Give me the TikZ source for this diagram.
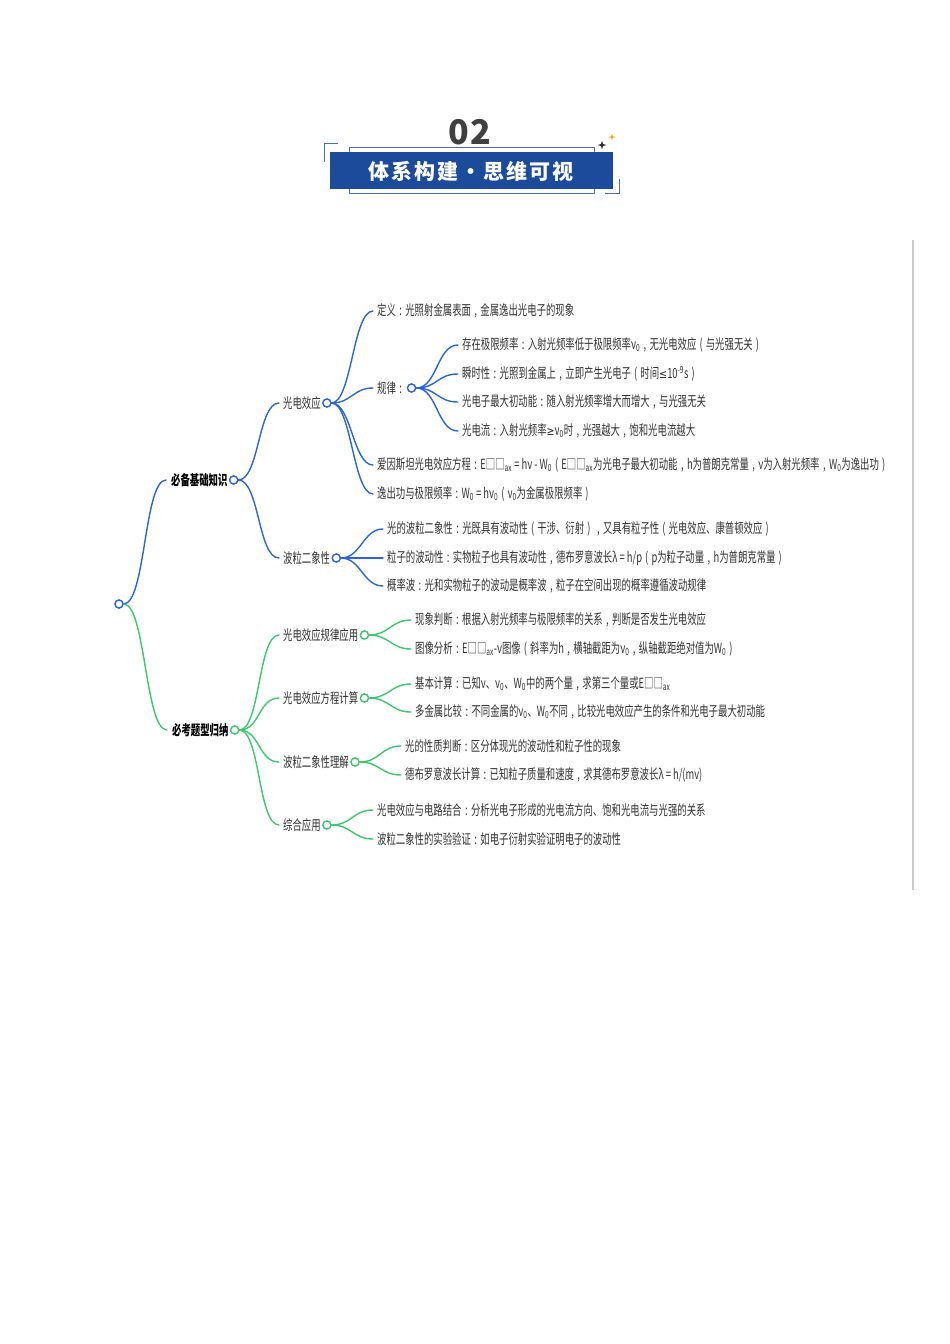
\documentclass[tikz,border=0pt]{standalone}
\usepackage{fontspec}
\setmainfont{Noto Sans CJK SC}[FakeStretch=0.67]
\newfontfamily\hdfont{Noto Sans CJK SC}[LetterSpace=4]
\newfontfamily\ttlfont{Noto Sans CJK SC}[LetterSpace=9]
\newfontfamily\symfont{DejaVu Sans}[FakeStretch=0.8]
\definecolor{bl}{HTML}{2A66D6}
\definecolor{gr}{HTML}{3CC870}
\definecolor{bar}{HTML}{1D4B9B}
\definecolor{frm}{HTML}{4A6DB5}
\definecolor{txt}{HTML}{333333}
\newcommand\nuz{ν\textsubscript{0}}
\newcommand\Wz{W\textsubscript{0}}
\newcommand\Ekm{E□□\textsubscript{ax}}
\newcommand\cl{\makebox[9.4pt][c]{:}}
\newcommand\cm{\makebox[9.4pt][c]{,}}
\newcommand\lp{\makebox[9.4pt][c]{(}}
\newcommand\rp{\makebox[9.4pt][c]{)}}
\newcommand\leqs{{\symfont\fontsize{12}{14}\selectfont ≤}}
\newcommand\geqs{{\symfont\fontsize{12}{14}\selectfont ≥}}
\begin{document}
\begin{tikzpicture}[x=1pt,y=-1pt,
  lf/.style={anchor=west, inner sep=0pt, text=txt, font=\fontsize{14}{16}\selectfont},
  mainlf/.style={anchor=west, inner sep=0pt, text=black, font=\bfseries\fontsize{14}{16}\selectfont},
  dotb/.style={circle, draw=bl, fill=white, line width=1.3pt, minimum size=8pt, inner sep=0pt},
  dotg/.style={circle, draw=gr, fill=white, line width=1.3pt, minimum size=8pt, inner sep=0pt},
  cb/.style={draw=bl, line width=1.4pt, line cap=round},
  cg/.style={draw=gr, line width=1.4pt, line cap=round}]
\useasboundingbox (0,0) rectangle (950,1344);
\fill[white] (0,0) rectangle (950,1344);

% ---------- header ----------
\node[inner sep=0pt, text=black!75, font=\hdfont\bfseries\fontsize{34}{36}\selectfont] (num) at (470,132) {02};
\draw[frm, line width=0.9pt] (349,147) rectangle (594,193);
\fill[bar] (330,152) rectangle (613,189);
\draw[frm, line width=0.9pt] (338,143) -- (324,143) -- (324,162);
\draw[frm, line width=0.9pt] (605,193) -- (619,193) -- (619,179);
\node[inner sep=0pt, text=white, font=\ttlfont\bfseries\fontsize{21}{23}\selectfont] (ttl) at (471,171) {体系构建・思维可视};
\fill[black!80] (602,140.5) -- (603,144) -- (606.5,145) -- (603,146) -- (602,149.5) -- (601,146) -- (597.5,145) -- (601,144) -- cycle;
\fill[orange!85!yellow] (612,133.5) -- (612.7,136.3) -- (615.5,137) -- (612.7,137.7) -- (612,140.5) -- (611.3,137.7) -- (608.5,137) -- (611.3,136.3) -- cycle;

% ---------- right gray rule ----------
\draw[black!20, line width=1.2pt] (913,240) -- (913,890);

% ---------- nodes ----------
\node[dotb] (root) at (119,604) {};

\node[mainlf] (jc) at (171,480) {必备基础知识};
\node[dotb] (cjc) at ([xshift=6pt]jc.east) {};

\node[lf] (gd) at (283,403) {光电效应};
\node[dotb] (cgd) at ([xshift=6pt]gd.east) {};
\node[lf] (bl2) at (283,558) {波粒二象性};
\node[dotb] (cbl2) at ([xshift=6pt]bl2.east) {};

\node[lf] (dy) at (377,311) {定义\cl 光照射金属表面\cm 金属逸出光电子的现象};
\node[lf] (gl) at (377,388) {规律\cl};
\node[dotb] (cgl) at ([xshift=6pt]gl.east) {};
\node[lf] (ay) at (377,465) {爱因斯坦光电效应方程\cl\Ekm{} = hν - \Wz\lp\Ekm{}为光电子最大初动能\cm h为普朗克常量\cm ν为入射光频率\cm\Wz{}为逸出功\rp};
\node[lf] (yc) at (377,494) {逸出功与极限频率\cl\Wz{} = h\nuz\lp\nuz{}为金属极限频率\rp};

\node[lf] (g1) at (462,345) {存在极限频率\cl 入射光频率低于极限频率\nuz\cm 无光电效应\lp 与光强无关\rp};
\node[lf] (g2) at (462,374) {瞬时性\cl 光照到金属上\cm 立即产生光电子\lp 时间\leqs 10\textsuperscript{-9}s\rp};
\node[lf] (g3) at (462,402) {光电子最大初动能\cl 随入射光频率增大而增大\cm 与光强无关};
\node[lf] (g4) at (462,431) {光电流\cl 入射光频率\geqs\nuz{}时\cm 光强越大\cm 饱和光电流越大};

\node[lf] (w1) at (387,529) {光的波粒二象性\cl 光既具有波动性\lp 干涉、衍射\rp\cm 又具有粒子性\lp 光电效应、康普顿效应\rp};
\node[lf] (w2) at (387,558) {粒子的波动性\cl 实物粒子也具有波动性\cm 德布罗意波长λ = h/p\lp p为粒子动量\cm h为普朗克常量\rp};
\node[lf] (w3) at (387,586) {概率波\cl 光和实物粒子的波动是概率波\cm 粒子在空间出现的概率遵循波动规律};

\node[mainlf] (kt) at (172,730) {必考题型归纳};
\node[dotg] (ckt) at ([xshift=6pt]kt.east) {};

\node[lf] (k1) at (283,635) {光电效应规律应用};
\node[dotg] (ck1) at ([xshift=6pt]k1.east) {};
\node[lf] (k2) at (283,698) {光电效应方程计算};
\node[dotg] (ck2) at ([xshift=6pt]k2.east) {};
\node[lf] (k3) at (283,762) {波粒二象性理解};
\node[dotg] (ck3) at ([xshift=6pt]k3.east) {};
\node[lf] (k4) at (283,825) {综合应用};
\node[dotg] (ck4) at ([xshift=6pt]k4.east) {};

\node[lf] (k11) at (415,620) {现象判断\cl 根据入射光频率与极限频率的关系\cm 判断是否发生光电效应};
\node[lf] (k12) at (415,649) {图像分析\cl\Ekm-ν图像\lp 斜率为h\cm 横轴截距为\nuz\cm 纵轴截距绝对值为\Wz\rp};
\node[lf] (k21) at (415,684) {基本计算\cl 已知ν、\nuz、\Wz{}中的两个量\cm 求第三个量或\Ekm};
\node[lf] (k22) at (415,712) {多金属比较\cl 不同金属的\nuz、\Wz{}不同\cm 比较光电效应产生的条件和光电子最大初动能};
\node[lf] (k31) at (405,746) {光的性质判断\cl 区分体现光的波动性和粒子性的现象};
\node[lf] (k32) at (405,775) {德布罗意波长计算\cl 已知粒子质量和速度\cm 求其德布罗意波长λ = h/(mv)};
\node[lf] (k41) at (377,810) {光电效应与电路结合\cl 分析光电子形成的光电流方向、饱和光电流与光强的关系};
\node[lf] (k42) at (377,839) {波粒二象性的实验验证\cl 如电子衍射实验证明电子的波动性};

% ---------- connectors (blue) ----------
\draw[cb] (root.east) .. controls +(22,0) and +(-22,0) .. ([xshift=-5pt]jc.west);
\draw[cb] (cjc.east) .. controls +(21,0) and +(-21,0) .. ([xshift=-4pt]gd.west);
\draw[cb] (cjc.east) .. controls +(21,0) and +(-21,0) .. ([xshift=-4pt]bl2.west);
\foreach \t in {dy,gl,ay,yc}{
  \draw[cb] (cgd.east) .. controls +(20,0) and +(-20,0) .. ([xshift=-4pt]\t.west);
}
\foreach \t in {g1,g2,g3,g4}{
  \draw[cb] (cgl.east) .. controls +(21,0) and +(-21,0) .. ([xshift=-4pt]\t.west);
}
\foreach \t in {w1,w2,w3}{
  \draw[cb] (cbl2.east) .. controls +(20,0) and +(-20,0) .. ([xshift=-4pt]\t.west);
}

% ---------- connectors (green) ----------
\draw[cg] (root.east) .. controls +(22,0) and +(-22,0) .. ([xshift=-5pt]kt.west);
\foreach \t in {k1,k2,k3,k4}{
  \draw[cg] (ckt.east) .. controls +(21,0) and +(-21,0) .. ([xshift=-4pt]\t.west);
}
\foreach \t in {k11,k12}{
  \draw[cg] (ck1.east) .. controls +(20,0) and +(-20,0) .. ([xshift=-4pt]\t.west);
}
\foreach \t in {k21,k22}{
  \draw[cg] (ck2.east) .. controls +(20,0) and +(-20,0) .. ([xshift=-4pt]\t.west);
}
\foreach \t in {k31,k32}{
  \draw[cg] (ck3.east) .. controls +(20,0) and +(-20,0) .. ([xshift=-4pt]\t.west);
}
\foreach \t in {k41,k42}{
  \draw[cg] (ck4.east) .. controls +(20,0) and +(-20,0) .. ([xshift=-4pt]\t.west);
}
% redraw dots on top
\node[dotb] at (root) {};
\node[dotb] at (cjc) {};
\node[dotb] at (cgd) {};
\node[dotb] at (cgl) {};
\node[dotb] at (cbl2) {};
\node[dotg] at (ckt) {};
\node[dotg] at (ck1) {};
\node[dotg] at (ck2) {};
\node[dotg] at (ck3) {};
\node[dotg] at (ck4) {};
\end{tikzpicture}
\end{document}
